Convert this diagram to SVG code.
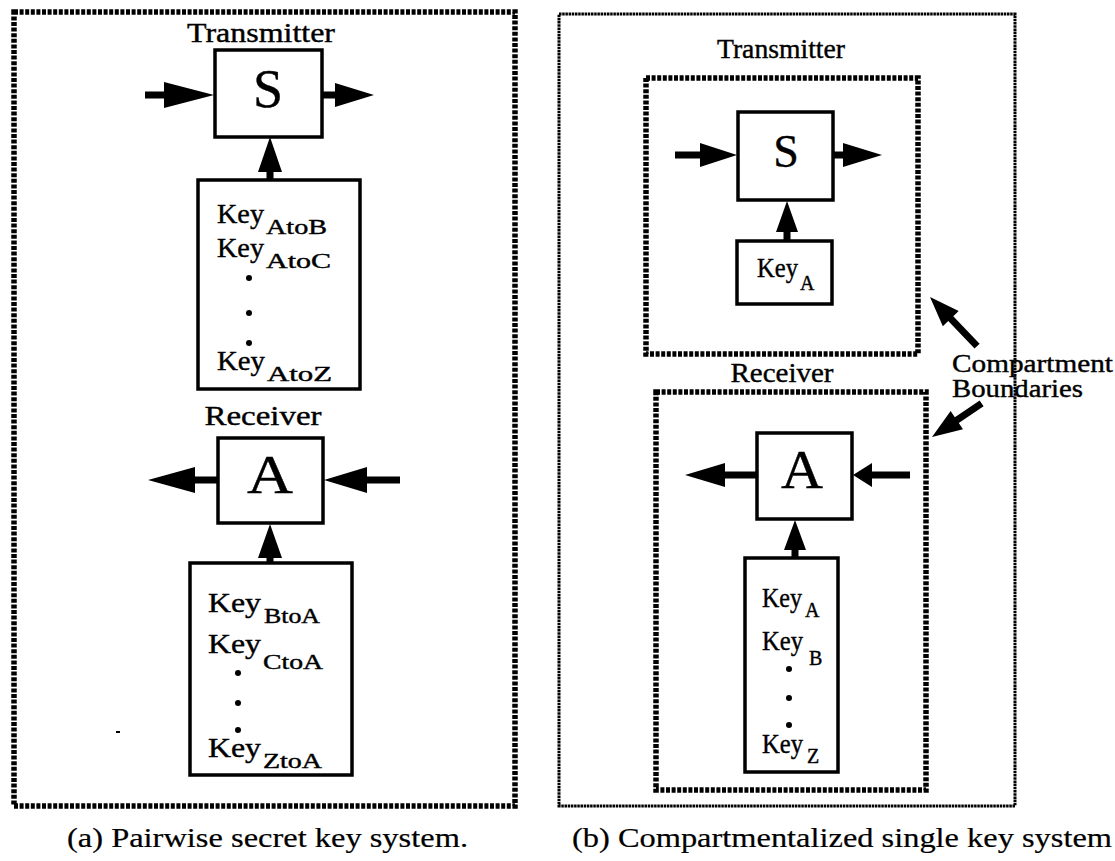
<svg xmlns="http://www.w3.org/2000/svg" width="1115" height="861" viewBox="0 0 1115 861">
<style>
.rope{fill:none;stroke:#000;stroke-width:5.5;stroke-dasharray:4 1.6}
.fine{fill:none;stroke:#000;stroke-width:3;stroke-dasharray:2.5 0.7}
.box{fill:#fff;stroke:#000;stroke-width:3.5}
.t{font-family:'Liberation Serif','Times New Roman',Times,serif;fill:#000;stroke:#000;stroke-width:0.4}
.lbl{font-size:27px}
.big{font-size:54px}
.key{font-size:27px}
.sub{font-size:20px}
.dot{fill:#000}
.arr{fill:#000;stroke:none}
</style>

<g id="frame-a">
<rect class="rope" x="14" y="12" width="501" height="794"/>
<rect x="116" y="731" width="4" height="2" fill="#000"/>
</g>
<g id="frame-b">
<rect class="fine" x="559" y="14" width="456" height="792"/>
</g>
<g id="compartment-tx">
<rect class="rope" x="646" y="78" width="272" height="276"/>
</g>
<g id="compartment-rx">
<rect class="rope" x="656" y="392" width="270" height="398"/>
</g>

<g id="connectors">
<path class="arr" d="M145,91.5 H164 V82 L214,95 L164,108 V98.5 H145 Z"/>
<path class="arr" d="M323,91.5 H335 V83 L374,95 L335,107 V98.5 H323 Z"/>
<path class="arr" d="M266.5,180 V172 H258 L270,137 L282,172 H273.5 V180 Z"/>
<path class="arr" d="M218,476.5 H195 V467 L148,480 L195,493 V483.5 H218 Z"/>
<path class="arr" d="M400,476.5 H367 V467 L324,480 L367,493 V483.5 H400 Z"/>
<path class="arr" d="M266.5,563 V558 H258 L270,524 L282,558 H273.5 V563 Z"/>
<path class="arr" d="M675,151.5 H700 V143 L737,155 L700,167 V158.5 H675 Z"/>
<path class="arr" d="M834,151.5 H843 V143 L882,155 L843,167 V158.5 H834 Z"/>
<path class="arr" d="M783.5,241 V232 H776 L787,201 L798,232 H790.5 V241 Z"/>
<path class="arr" d="M757,471.5 H725 V463 L685,475 L725,487 V478.5 H757 Z"/>
<path class="arr" d="M910,471.5 H872 V463 L853,475 L872,487 V478.5 H910 Z"/>
<path class="arr" d="M791.5,558 V550 H784 L795,520 L806,550 H798.5 V558 Z"/>
<path class="arr" transform="translate(930,297) rotate(-133.8)" d="M0,0 L-30,-11 L-30,-3.5 L-68,-3.5 L-68,3.5 L-30,3.5 L-30,11 Z"/>
<path class="arr" transform="translate(932,437) rotate(145.8)" d="M0,0 L-30,-11 L-30,-3.5 L-60,-3.5 L-60,3.5 L-30,3.5 L-30,11 Z"/>
</g>

<g id="transmitter-a" font-family="Liberation Serif, serif">
<text class="t lbl" x="261" y="42" text-anchor="middle" textLength="148" lengthAdjust="spacingAndGlyphs">Transmitter</text>
<rect class="box" x="215" y="50" width="107" height="87"/>
<text class="t big" x="268" y="107" text-anchor="middle">S</text>
</g>
<g id="keys-tx-a" font-family="Liberation Serif, serif">
<rect class="box" x="198" y="180" width="162" height="209"/>
<text class="t key" x="217" y="223" textLength="47" lengthAdjust="spacingAndGlyphs">Key</text>
<text class="t sub" x="266" y="234" textLength="61" lengthAdjust="spacingAndGlyphs">AtoB</text>
<text class="t key" x="217" y="257" textLength="47" lengthAdjust="spacingAndGlyphs">Key</text>
<text class="t sub" x="266" y="268" textLength="65" lengthAdjust="spacingAndGlyphs">AtoC</text>
<circle class="dot" cx="249" cy="278" r="3"/>
<circle class="dot" cx="249" cy="313" r="3"/>
<circle class="dot" cx="249" cy="343" r="3"/>
<text class="t key" x="217" y="370" textLength="48" lengthAdjust="spacingAndGlyphs">Key</text>
<text class="t sub" x="267" y="381" textLength="65" lengthAdjust="spacingAndGlyphs">AtoZ</text>
</g>
<g id="receiver-a" font-family="Liberation Serif, serif">
<text class="t lbl" x="263" y="425" text-anchor="middle" textLength="117" lengthAdjust="spacingAndGlyphs">Receiver</text>
<rect class="box" x="218" y="438" width="105" height="85"/>
<text class="t big" x="270" y="493" text-anchor="middle" textLength="46" lengthAdjust="spacingAndGlyphs">A</text>
</g>
<g id="keys-rx-a" font-family="Liberation Serif, serif">
<rect class="box" x="190" y="563" width="162" height="212"/>
<text class="t key" x="208" y="612" textLength="53" lengthAdjust="spacingAndGlyphs">Key</text>
<text class="t sub" x="264" y="623" textLength="56" lengthAdjust="spacingAndGlyphs">BtoA</text>
<text class="t key" x="208" y="653" textLength="53" lengthAdjust="spacingAndGlyphs">Key</text>
<text class="t sub" x="263" y="669" textLength="60" lengthAdjust="spacingAndGlyphs">CtoA</text>
<circle class="dot" cx="238" cy="673" r="3"/>
<circle class="dot" cx="238" cy="703" r="3"/>
<circle class="dot" cx="238" cy="730" r="3"/>
<text class="t key" x="208" y="757" textLength="53" lengthAdjust="spacingAndGlyphs">Key</text>
<text class="t sub" x="263" y="768" textLength="59" lengthAdjust="spacingAndGlyphs">ZtoA</text>
</g>

<g id="transmitter-b" font-family="Liberation Serif, serif">
<text class="t lbl" x="781" y="58" text-anchor="middle" textLength="128" lengthAdjust="spacingAndGlyphs">Transmitter</text>
<rect class="box" x="738" y="112" width="95" height="88"/>
<text class="t" style="font-size:46px" x="786" y="167" text-anchor="middle">S</text>
</g>
<g id="keys-tx-b" font-family="Liberation Serif, serif">
<rect class="box" x="737" y="241" width="95" height="63"/>
<text class="t key" x="757" y="277" textLength="41" lengthAdjust="spacingAndGlyphs">Key</text>
<text class="t sub" x="800" y="290">A</text>
</g>
<g id="receiver-b" font-family="Liberation Serif, serif">
<text class="t lbl" x="782" y="382" text-anchor="middle" textLength="103" lengthAdjust="spacingAndGlyphs">Receiver</text>
<rect class="box" x="757" y="433" width="95" height="86"/>
<text class="t big" x="802" y="488" text-anchor="middle" textLength="42" lengthAdjust="spacingAndGlyphs">A</text>
</g>
<g id="keys-rx-b" font-family="Liberation Serif, serif">
<rect class="box" x="745" y="558" width="93" height="214"/>
<text class="t key" x="762" y="607" textLength="40" lengthAdjust="spacingAndGlyphs">Key</text>
<text class="t sub" x="805" y="617">A</text>
<text class="t key" x="762" y="650" textLength="41" lengthAdjust="spacingAndGlyphs">Key</text>
<text class="t sub" x="809" y="665">B</text>
<circle class="dot" cx="789" cy="669" r="3"/>
<circle class="dot" cx="789" cy="698" r="3"/>
<circle class="dot" cx="789" cy="725" r="3"/>
<text class="t key" x="762" y="753" textLength="41" lengthAdjust="spacingAndGlyphs">Key</text>
<text class="t sub" x="807" y="763">Z</text>
</g>

<g id="boundary-label" font-family="Liberation Serif, serif">
<text class="t" style="font-size:25px" x="952" y="372" textLength="161" lengthAdjust="spacingAndGlyphs">Compartment</text>
<text class="t" style="font-size:25px" x="952" y="397" textLength="131" lengthAdjust="spacingAndGlyphs">Boundaries</text>
</g>

<g id="captions" font-family="Liberation Serif, serif">
<text class="t" style="font-size:27px;stroke-width:0.2" x="67" y="847" textLength="401" lengthAdjust="spacingAndGlyphs">(a)  Pairwise secret key system.</text>
<text class="t" style="font-size:27px;stroke-width:0.2" x="572" y="847" textLength="540" lengthAdjust="spacingAndGlyphs">(b)  Compartmentalized single key system</text>
</g>
</svg>
